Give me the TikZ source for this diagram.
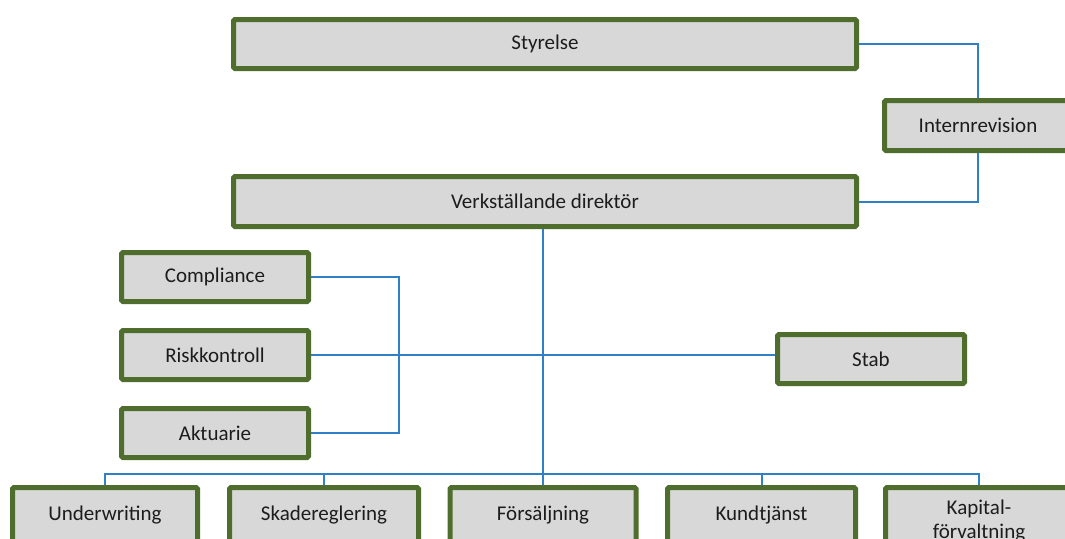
\documentclass[tikz,border=0pt]{standalone}
\usepackage{fontspec}
\setmainfont{Carlito}
\definecolor{boxgreen}{HTML}{4F6E2D}
\definecolor{boxfill}{HTML}{D8D8D8}
\definecolor{linkblue}{HTML}{2F80C6}
\definecolor{txtc}{HTML}{1C1C1C}
\tikzset{
  orgbox/.style={draw=boxgreen, fill=boxfill, line width=3.75pt, rounded corners=1pt,
    inner sep=0pt, text=txtc, font=\fontsize{15.75}{19}\selectfont},
  smallbox/.style={orgbox, minimum width=140.25pt, minimum height=36.75pt},
  lowbox/.style={orgbox, minimum height=41.25pt},
  plain/.style={inner sep=0pt, text=txtc, font=\fontsize{15.75}{19}\selectfont},
  link/.style={draw=linkblue, line width=1.5pt}
}
\begin{document}
\begin{tikzpicture}[x=0.75pt, y=-0.75pt]
\clip (0,0) rectangle (1065,539);
\fill[white] (0,0) rectangle (1065,539);
% top level
\node[orgbox, minimum width=467.25pt, minimum height=36.75pt] (sty) at (545,44) {Styrelse};
\node[orgbox, minimum width=140.25pt, minimum height=37.5pt] (int) at (978,125.5) {Internrevision};
\node[orgbox, minimum width=467.25pt, minimum height=37.5pt] (vd) at (545,201.5) {Verkställande direktör};
% middle
\node[smallbox] (comp) at (215,277) {Compliance};
\node[smallbox] (risk) at (215,355) {Riskkontroll};
\node[smallbox] (akt) at (215,433) {Aktuarie};
\node[smallbox] (stab) at (871,359) {Stab};
% bottom
\node[lowbox, minimum width=138.75pt] (uw) at (105,515) {Underwriting};
\node[lowbox, minimum width=141.75pt] (sk) at (324,515) {Skadereglering};
\node[lowbox, minimum width=139.5pt] (fs) at (543,515) {Försäljning};
\node[lowbox, minimum width=141pt] (kt) at (761.5,515) {Kundtjänst};
\node[lowbox, minimum width=140.25pt] (kap) at (979,515) {};
\node[plain, anchor=base] (kap1) at (979,514) {Kapital-};
\node[plain, anchor=base] (kap2) at (979,538) {förvaltning};
% connectors
\coordinate (bus) at (0,474);
\coordinate (rj) at (399,0);
\draw[link] (sty.east) -| (int.north);
\draw[link] (int.south) |- (vd.east);
\draw[link] (vd.south -| fs.north) -- (fs.north);
\draw[link] (uw.north) -- (uw.north |- bus) -- (kap.north |- bus) -- (kap.north);
\draw[link] (sk.north) -- (sk.north |- bus);
\draw[link] (kt.north) -- (kt.north |- bus);
\draw[link] (comp.east) -- (comp.east -| rj) -- (akt.east -| rj) -- (akt.east);
\draw[link] (risk.east) -- (stab.west |- risk.east);
\end{tikzpicture}
\end{document}
